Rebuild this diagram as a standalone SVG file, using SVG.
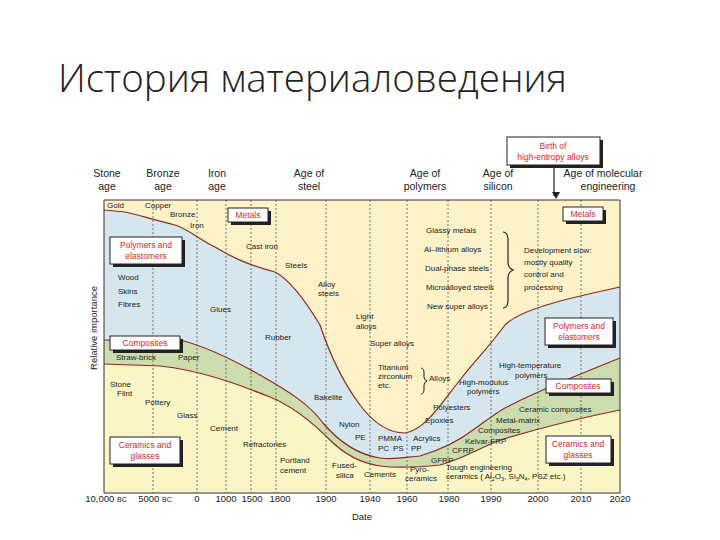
<svg xmlns="http://www.w3.org/2000/svg" width="720" height="540" viewBox="0 0 720 540">
<style>
.t{font-family:"Liberation Sans",Arial,sans-serif;font-size:8px;fill:#222}
.h{font-family:"Liberation Sans",Arial,sans-serif;font-size:10.5px;fill:#222;text-anchor:middle}
.r{font-family:"Liberation Sans",Arial,sans-serif;font-size:8.5px;fill:#d42a2a;text-anchor:middle}
.ax{font-family:"Liberation Sans",Arial,sans-serif;font-size:9.5px;fill:#222;text-anchor:middle}
.bx{fill:#fff;stroke:#222;stroke-width:1}
.sh{fill:#222}
.dl{stroke:#555;stroke-width:0.8;stroke-dasharray:2,2}
.bd{fill:none;stroke:#8b2a1e;stroke-width:1.2}
</style>
<defs><marker id="ar" markerWidth="8" markerHeight="8" refX="4" refY="6" orient="auto" markerUnits="userSpaceOnUse"><path d="M0,0 L4,7 L8,0 Z" fill="#222" transform="rotate(-90 4 4)"/></marker></defs>
<rect width="720" height="540" fill="#fff"/>
<text x="58" y="92" font-family="Open Sans,Liberation Sans,sans-serif" font-size="38.5" fill="#222" font-weight="300">История материаловедения</text>
<g id="areas">
<rect x="104" y="200" width="516" height="293" fill="#fdf1c8"/>
<path d="M104,210 L125,212 C140,215 150,219 175,225 C190,230 200,240 215,247 C230,256 245,264 275,272 C290,280 305,300 320,325 C330,355 345,385 360,405 C375,425 390,433 405,433 C425,430 440,405 460,380 C475,360 485,352 505,325 C520,310 560,300 620,287 L620,493 L104,493 Z" fill="#d6e6ee"/>
<path d="M104,340 L180,340 C200,345 230,358 260,375 C290,392 310,405 323,423 C340,443 360,455 380,458 C395,460 407,457 420,456 C440,450 460,440 473,430 C490,418 500,410 507,407 C520,400 540,390 620,358 L620,493 L104,493 Z" fill="#cddcae"/>
<path d="M104,364 L160,366 C200,370 240,385 270,397 C290,405 310,420 330,440 C345,455 360,463 380,466 C395,468 420,467 440,465 C460,460 480,448 500,440 C520,434 560,422 620,410 L620,493 L104,493 Z" fill="#f9f5c4"/>
</g>
<g id="connectors">
<path class="bd" d="M104,210 L125,212 C140,215 150,219 175,225 C190,230 200,240 215,247 C230,256 245,264 275,272 C290,280 305,300 320,325 C330,355 345,385 360,405 C375,425 390,433 405,433 C425,430 440,405 460,380 C475,360 485,352 505,325 C520,310 560,300 620,287"/>
<path class="bd" d="M104,340 L180,340 C200,345 230,358 260,375 C290,392 310,405 323,423 C340,443 360,455 380,458 C395,460 407,457 420,456 C440,450 460,440 473,430 C490,418 500,410 507,407 C520,400 540,390 620,358"/>
<path class="bd" d="M104,364 L160,366 C200,370 240,385 270,397 C290,405 310,420 330,440 C345,455 360,463 380,466 C395,468 420,467 440,465 C460,460 480,448 500,440 C520,434 560,422 620,410"/>
<g class="dl"><line x1="153" y1="200" x2="153" y2="493"/><line x1="197" y1="200" x2="197" y2="493"/><line x1="226" y1="200" x2="226" y2="493"/><line x1="251" y1="200" x2="251" y2="493"/><line x1="276" y1="200" x2="276" y2="493"/><line x1="326" y1="200" x2="326" y2="493"/><line x1="370" y1="200" x2="370" y2="493"/><line x1="407" y1="200" x2="407" y2="493"/><line x1="448" y1="200" x2="448" y2="493"/><line x1="491" y1="200" x2="491" y2="493"/><line x1="538" y1="200" x2="538" y2="493"/><line x1="581" y1="200" x2="581" y2="493"/></g>
<path d="M104,200 L620,200 L620,493 M104,200 L104,493 L620,493" fill="none" stroke="#333" stroke-width="1"/>
<line x1="554" y1="166" x2="554" y2="196" stroke="#222" stroke-width="1.2" marker-end="url(#ar)"/>
<path d="M503,232 q5,0 5,8 v22 q0,6 5,8 q-5,2 -5,8 v22 q0,8 -5,8" fill="none" stroke="#222" stroke-width="1.2"/>
<path d="M421,368 q3,0 3,5 v4 q0,3 3,4 q-3,1 -3,4 v4 q0,5 -3,5" fill="none" stroke="#222" stroke-width="1"/>
</g>
<g id="header">
<text class="h" x="107" y="177">Stone</text><text class="h" x="107" y="190">age</text>
<text class="h" x="163" y="177">Bronze</text><text class="h" x="163" y="190">age</text>
<text class="h" x="217" y="177">Iron</text><text class="h" x="217" y="190">age</text>
<text class="h" x="309" y="177">Age of</text><text class="h" x="309" y="190">steel</text>
<text class="h" x="425" y="177">Age of</text><text class="h" x="425" y="190">polymers</text>
<text class="h" x="498" y="177">Age of</text><text class="h" x="498" y="190">silicon</text>
<text class="h" x="603" y="177">Age of molecular</text><text class="h" x="608" y="190">engineering</text>
</g>
<g id="boxes">
<g id="birth"><rect class="sh" x="510" y="140" width="93" height="28"/><rect class="bx" x="507" y="137" width="93" height="28"/><text class="r" x="553" y="149">Birth of</text><text class="r" x="553" y="160">high-entropy alloys</text></g>
<g id="metals1"><rect class="sh" x="231" y="211" width="40" height="14"/><rect class="bx" x="228" y="208" width="40" height="14"/><text class="r" x="248" y="218">Metals</text></g>
<g id="poly1"><rect class="sh" x="113" y="240" width="72" height="27"/><rect class="bx" x="110" y="237" width="72" height="27"/><text class="r" x="146" y="248">Polymers and</text><text class="r" x="146" y="259">elastomers</text></g>
<g id="comp1"><rect class="sh" x="113" y="339" width="70" height="14"/><rect class="bx" x="110" y="336" width="70" height="14"/><text class="r" x="145" y="346">Composites</text></g>
<g id="cer1"><rect class="sh" x="113" y="440" width="70" height="27"/><rect class="bx" x="110" y="437" width="70" height="27"/><text class="r" x="145" y="448">Ceramics and</text><text class="r" x="145" y="459">glasses</text></g>
<g id="metals2"><rect class="sh" x="566" y="210" width="40" height="14"/><rect class="bx" x="563" y="207" width="40" height="14"/><text class="r" x="583" y="217">Metals</text></g>
<g id="poly2"><rect class="sh" x="548" y="321" width="68" height="27"/><rect class="bx" x="545" y="318" width="68" height="27"/><text class="r" x="579" y="329">Polymers and</text><text class="r" x="579" y="340">elastomers</text></g>
<g id="comp2"><rect class="sh" x="549" y="382" width="65" height="14"/><rect class="bx" x="546" y="379" width="65" height="14"/><text class="r" x="578" y="389">Composites</text></g>
<g id="cer2"><rect class="sh" x="549" y="439" width="65" height="27"/><rect class="bx" x="546" y="436" width="65" height="27"/><text class="r" x="578" y="447">Ceramics and</text><text class="r" x="578" y="458">glasses</text></g>
</g>
<g id="labels">
<text class="t" x="107" y="208">Gold</text><text class="t" x="145" y="208">Copper</text>
<text class="t" x="170" y="217">Bronze</text><text class="t" x="190" y="228">Iron</text>
<text class="t" x="246" y="249">Cast iron</text><text class="t" x="285" y="268">Steels</text>
<text class="t" x="318" y="287">Alloy</text><text class="t" x="318" y="296">steels</text>
<text class="t" x="118" y="280">Wood</text><text class="t" x="118" y="294">Skins</text><text class="t" x="118" y="307">Fibres</text>
<text class="t" x="210" y="312">Glues</text>
<text class="t" x="356" y="319">Light</text><text class="t" x="356" y="329">alloys</text>
<text class="t" x="265" y="340">Rubber</text>
<text class="t" x="370" y="346">Super alloys</text>
<text class="t" x="378" y="370">Titanium</text><text class="t" x="378" y="379">zirconium</text><text class="t" x="378" y="388">etc.</text>
<text class="t" x="429" y="381">Alloys</text>
<text class="t" x="116" y="360">Straw-brick</text><text class="t" x="178" y="360">Paper</text>
<text class="t" x="110" y="387">Stone</text><text class="t" x="117" y="396">Flint</text><text class="t" x="145" y="405">Pottery</text>
<text class="t" x="177" y="418">Glass</text><text class="t" x="210" y="431">Cement</text>
<text class="t" x="243" y="447">Refractories</text>
<text class="t" x="280" y="463">Portland</text><text class="t" x="280" y="473">cement</text>
<text class="t" x="314" y="400">Bakelite</text>
<text class="t" x="339" y="427">Nylon</text><text class="t" x="355" y="440">PE</text>
<text class="t" x="332" y="468">Fused-</text><text class="t" x="336" y="478">silica</text>
<text class="t" x="364" y="477">Cements</text>
<text class="t" x="378" y="441">PMMA</text><text class="t" x="413" y="441">Acrylics</text>
<text class="t" x="378" y="451">PC</text><text class="t" x="393" y="451">PS</text><text class="t" x="411" y="451">PP</text>
<text class="t" x="410" y="472">Pyro-</text><text class="t" x="405" y="481">ceramics</text>
<text class="t" x="433" y="410">Polyesters</text><text class="t" x="425" y="423">Epoxies</text>
<text class="t" x="431" y="463">GFRP</text><text class="t" x="452" y="453">CFRP</text>
<text class="t" x="465" y="444">Kelvar-FRP</text>
<text class="t" x="478" y="433">Composites</text><text class="t" x="496" y="423">Metal-matrix</text>
<text class="t" x="446" y="470">Tough engineering</text>
<text class="t" x="446" y="479">ceramics ( Al<tspan font-size="5.5" dy="2">2</tspan><tspan dy="-2">O</tspan><tspan font-size="5.5" dy="2">3</tspan><tspan dy="-2">, Si</tspan><tspan font-size="5.5" dy="2">3</tspan><tspan dy="-2">N</tspan><tspan font-size="5.5" dy="2">4</tspan><tspan dy="-2">, PSZ etc.)</tspan></text>
<text class="t" x="459" y="385">High-modulus</text><text class="t" x="467" y="394">polymers</text>
<text class="t" x="499" y="368">High-temperature</text><text class="t" x="515" y="378">polymers</text>
<text class="t" x="519" y="412">Ceramic composites</text>
<text class="t" x="426" y="233">Glassy metals</text><text class="t" x="424" y="252">Al–lithium alloys</text>
<text class="t" x="425" y="271">Dual-phase steels</text><text class="t" x="426" y="290">Microalloyed steels</text>
<text class="t" x="427" y="309">New super alloys</text>
<text class="t" x="524" y="253">Development slow:</text><text class="t" x="524" y="265">mostly quality</text>
<text class="t" x="524" y="277">control and</text><text class="t" x="524" y="290">processing</text>
</g>
<g id="axis">
<text class="ax" x="106" y="502">10,000 <tspan font-size="7">BC</tspan></text>
<text class="ax" x="155" y="502">5000 <tspan font-size="7">BC</tspan></text>
<text class="ax" x="197" y="502">0</text><text class="ax" x="226" y="502">1000</text><text class="ax" x="252" y="502">1500</text><text class="ax" x="280" y="502">1800</text>
<text class="ax" x="326" y="502">1900</text><text class="ax" x="370" y="502">1940</text><text class="ax" x="407" y="502">1960</text><text class="ax" x="449" y="502">1980</text>
<text class="ax" x="491" y="502">1990</text><text class="ax" x="538" y="502">2000</text><text class="ax" x="581" y="502">2010</text><text class="ax" x="620" y="502">2020</text>
<text class="ax" x="362" y="520">Date</text>
<text class="ax" x="0" y="0" transform="translate(97,328) rotate(-90)">Relative importance</text>
</g>
</svg>
